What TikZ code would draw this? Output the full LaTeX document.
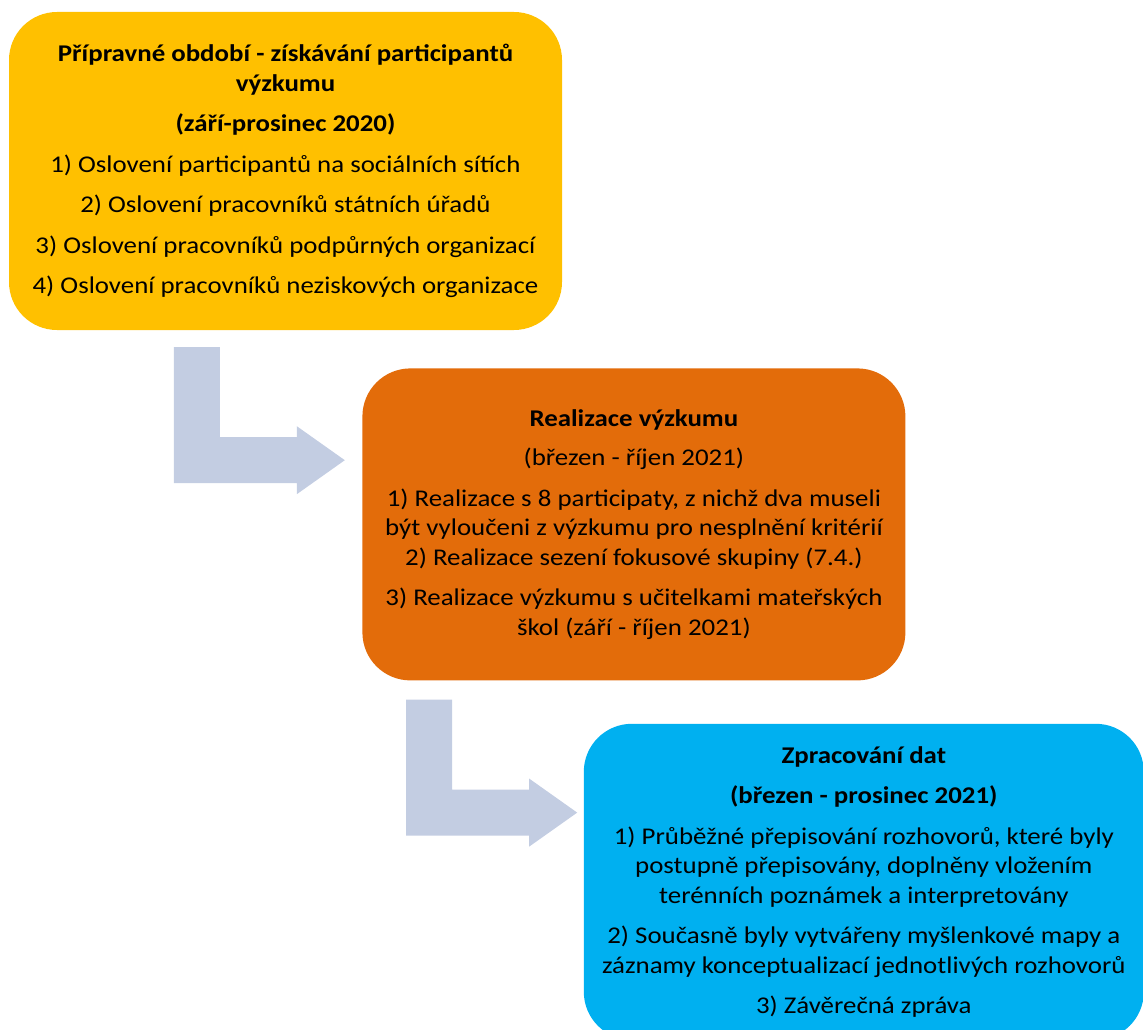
\documentclass[tikz,border=0pt]{standalone}
\usepackage{fontspec}
\setmainfont{Carlito}[FakeStretch=1.12]
\usepackage{tikz}
\usetikzlibrary{positioning,calc}
\definecolor{prepYellow}{HTML}{FFC000}
\definecolor{realOrange}{HTML}{E36C0A}
\definecolor{procBlue}{HTML}{00B0F0}
\definecolor{flowGrey}{HTML}{C3CDE2}
\tikzset{
  phase/.style={rounded corners=48pt, align=center, inner sep=0pt, font=\fontsize{24}{29.5}\selectfont},
  flowarrow/.style={fill=flowGrey},
  bentarrow/.pic={\fill[flowarrow] (0pt,0pt) -- (46pt,0pt) -- (46pt,-90pt) -- (123pt,-90pt) -- (123pt,-79pt)
    -- (171pt,-113pt) -- (123pt,-147pt) -- (123pt,-136pt) -- (0pt,-136pt) -- cycle;}
}

\begin{document}
\begin{tikzpicture}[x=1pt,y=1pt]
\useasboundingbox (0,0) rectangle (1143,-1030);
\node[phase, fill=prepYellow, minimum width=553pt, minimum height=318pt] (prep) at (285.5,-171) {%
  \textbf{Přípravné období - získávání participantů}\\
  \textbf{výzkumu}\\[11pt]
  \textbf{(září-prosinec 2020)}\\[11pt]
  1) Oslovení participantů na sociálních sítích\\[11pt]
  2) Oslovení pracovníků státních úřadů\\[11pt]
  3) Oslovení pracovníků podpůrných organizací\\[11pt]
  4) Oslovení pracovníků neziskových organizace};
\node[phase, fill=realOrange, minimum width=543pt, minimum height=312pt, below right=38pt and -200pt of prep] (real) {%
  \textbf{Realizace výzkumu}\\[10pt]
  (březen - říjen 2021)\\[11pt]
  1) Realizace s 8 participaty, z nichž dva museli\\
  být vyloučeni z výzkumu pro nesplnění kritérií\\
  2) Realizace sezení fokusové skupiny (7.4.)\\[11pt]
  3) Realizace výzkumu s učitelkami mateřských\\
  škol (září - říjen 2021)};
\node[phase, fill=procBlue, minimum width=560pt, minimum height=316pt, below right=43pt and -322pt of real] (proc) {%
  \textbf{Zpracování dat}\\[11pt]
  \textbf{(březen - prosinec 2021)}\\[11pt]
  1) Průběžné přepisování rozhovorů, které byly\\
  postupně přepisovány, doplněny vložením\\
  terénních poznámek a interpretovány\\[11pt]
  2) Současně byly vytvářeny myšlenkové mapy a\\
  záznamy konceptualizací jednotlivých rozhovorů\\[11pt]
  3) Závěrečná zpráva};
% ohnute sipky mezi fazemi
\coordinate (a1) at ($(prep.south west)+(165,-17)$);
\coordinate (a2) at ($(real.south west)+(44,-19)$);
\pic at (a1) {bentarrow};
\pic at (a2) {bentarrow};
\end{tikzpicture}
\end{document}
